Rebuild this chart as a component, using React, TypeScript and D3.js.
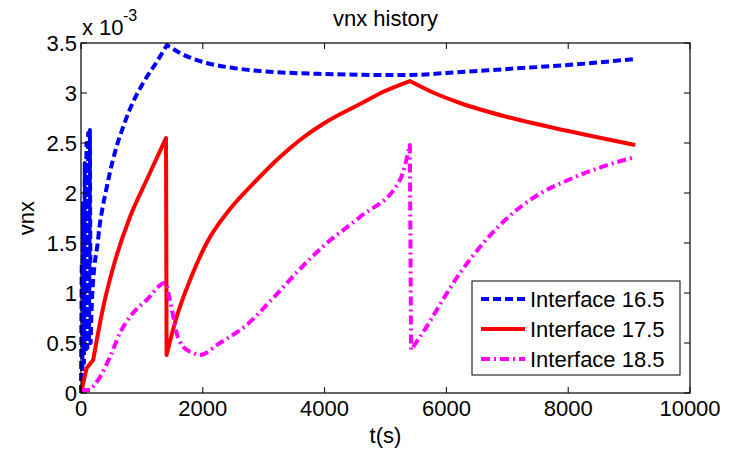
import React from "react";
import * as d3 from "d3";

// Interface velocity histories, values in units of 1e-3
const interface165: [number, number][] = [
  [0, 0], [12, 1.3], [22, 0.15], [35, 1.9], [48, 0.3], [62, 2.3], [76, 0.4],
  [90, 2.5], [104, 0.45], [118, 2.6], [132, 0.5], [146, 2.63], [158, 0.5],
  [175, 0.85], [192, 1.06], [219, 1.26], [274, 1.5], [301, 1.65], [356, 1.86],
  [410, 2.02], [465, 2.18], [520, 2.32], [563, 2.42], [680, 2.64], [804, 2.84],
  [1020, 3.1], [1243, 3.31], [1412, 3.48], [1626, 3.4], [2064, 3.3], [2500, 3.25],
  [2940, 3.22], [3480, 3.2], [4000, 3.19], [5000, 3.18], [5400, 3.18],
  [6000, 3.2], [7000, 3.24], [8000, 3.28], [9100, 3.34],
];

const interface175: [number, number][] = [
  [0, 0], [93, 0.25], [200, 0.33], [365, 0.86], [530, 1.26], [804, 1.76],
  [1078, 2.13], [1396, 2.55], [1405, 0.38], [1570, 0.76], [1790, 1.13],
  [2064, 1.5], [2447, 1.84], [2885, 2.13], [3267, 2.36], [3596, 2.53],
  [4000, 2.7], [4581, 2.89], [4992, 3.02], [5400, 3.12], [5800, 3.0],
  [6224, 2.9], [7000, 2.76], [8000, 2.62], [9100, 2.48],
];

const interface185: [number, number][] = [
  [0, 0.03], [150, 0.03], [312, 0.16], [476, 0.36], [640, 0.6], [854, 0.8],
  [1078, 0.93], [1380, 1.1], [1461, 0.93], [1570, 0.6], [1680, 0.46],
  [1845, 0.4], [1950, 0.38], [2280, 0.5], [2720, 0.68], [3155, 0.95],
  [3596, 1.24], [4000, 1.48], [4581, 1.76], [5238, 2.13], [5330, 2.3],
  [5400, 2.48], [5420, 0.43], [5566, 0.56], [6224, 1.2], [7000, 1.75],
  [7500, 1.98], [8000, 2.13], [8500, 2.25], [9100, 2.36],
];

// times where a history has a sharp corner (jump or kink)
const corners165 = [0, 12, 22, 35, 48, 62, 76, 90, 104, 118, 132, 146, 158, 1412];
const corners175 = [93, 200, 1396, 1405, 5400];
const corners185 = [150, 5400, 5420];

const xTicks = [0, 2000, 4000, 6000, 8000, 10000];
const yTicks = [0, 0.5, 1, 1.5, 2, 2.5, 3, 3.5];
const yTickLabels = ["0", "0.5", "1", "1.5", "2", "2.5", "3", "3.5"];
const legendLabels = ["Interface 16.5", "Interface 17.5", "Interface 18.5"];

const series = [
  { data: interface165, corners: corners165, color: "#0000ff", dash: "8,4", width: 4 },
  { data: interface175, corners: corners175, color: "#ff0000", dash: "none", width: 4 },
  { data: interface185, corners: corners185, color: "#ff00ff", dash: "9,4,2,4", width: 4 },
];

export default function App() {
  const W = 736;
  const H = 449;
  const left = 81;
  const right = 690;
  const top = 43;
  const bottom = 393;
  const font = "Arial, 'Liberation Sans', sans-serif";

  const x = d3.scaleLinear().domain([0, 10000]).range([left, right]);
  const y = d3.scaleLinear().domain([0, 3.5]).range([bottom, top]);
  const line = d3
    .line<[number, number]>()
    .x((d) => x(d[0]))
    .y((d) => y(d[1]))
    .curve(d3.curveMonotoneX);

  // smooth between corners, joined into one continuous path
  const pathFor = (data: [number, number][], corners: number[]) => {
    const segs: [number, number][][] = [];
    let cur: [number, number][] = [];
    data.forEach((p, i) => {
      cur.push(p);
      if (i > 0 && i < data.length - 1 && corners.includes(p[0])) {
        segs.push(cur);
        cur = [p];
      }
    });
    segs.push(cur);
    return segs
      .map((s, i) => {
        const d = line(s) || "";
        return i === 0 ? d : "L" + d.slice(1);
      })
      .join("");
  };

  const tickLen = 6;
  const legend = { x: 472, y: 281, w: 208, h: 94 };

  return (
    <svg
      width={W}
      height={H}
      style={{ position: "absolute", left: 0, top: 0, background: "#fff" }}
      fontFamily={font}
    >
      <rect x={0} y={0} width={W} height={H} fill="#fff" />

      {series.map((s, i) => (
        <path
          key={i}
          d={pathFor(s.data, s.corners)}
          fill="none"
          stroke={s.color}
          strokeWidth={s.width}
          strokeDasharray={s.dash}
          strokeLinejoin="round"
        />
      ))}

      {/* axes box */}
      <rect
        x={left}
        y={top}
        width={right - left}
        height={bottom - top}
        fill="none"
        stroke="#000"
        strokeWidth={1.2}
      />

      {xTicks.map((t) => (
        <g key={"xt" + t}>
          <line x1={x(t)} x2={x(t)} y1={bottom} y2={bottom - tickLen} stroke="#000" />
          <line x1={x(t)} x2={x(t)} y1={top} y2={top + tickLen} stroke="#000" />
          <text x={x(t)} y={416} fontSize={22} textAnchor="middle" fill="#000">
            {t}
          </text>
        </g>
      ))}

      {yTicks.map((t, i) => (
        <g key={"yt" + t}>
          <line x1={left} x2={left + tickLen} y1={y(t)} y2={y(t)} stroke="#000" />
          <line x1={right} x2={right - tickLen} y1={y(t)} y2={y(t)} stroke="#000" />
          <text x={77} y={y(t) + 8} fontSize={22} textAnchor="end" fill="#000">
            {yTickLabels[i]}
          </text>
        </g>
      ))}

      {/* exponent label */}
      <text x={82} y={35} fontSize={22} fill="#000">
        x 10
      </text>
      <text x={123} y={21} fontSize={16} fill="#000">
        -3
      </text>

      <text x={(left + right) / 2} y={26} fontSize={22} textAnchor="middle" fill="#000">
        vnx history
      </text>
      <text x={(left + right) / 2} y={443} fontSize={22} textAnchor="middle" fill="#000">
        t(s)
      </text>
      <text
        transform={`translate(34, ${(top + bottom) / 2}) rotate(-90)`}
        fontSize={22}
        textAnchor="middle"
        fill="#000"
      >
        vnx
      </text>

      {/* legend */}
      <rect
        x={legend.x}
        y={legend.y}
        width={legend.w}
        height={legend.h}
        fill="#fff"
        stroke="#000"
        strokeWidth={1}
      />
      {series.map((s, i) => {
        const ly = legend.y + 18 + i * 30;
        return (
          <g key={"lg" + i}>
            <line
              x1={481}
              x2={525}
              y1={ly}
              y2={ly}
              stroke={s.color}
              strokeWidth={s.width}
              strokeDasharray={s.dash}
            />
            <text x={530} y={ly + 8} fontSize={22} fill="#000">
              {legendLabels[i]}
            </text>
          </g>
        );
      })}
    </svg>
  );
}
